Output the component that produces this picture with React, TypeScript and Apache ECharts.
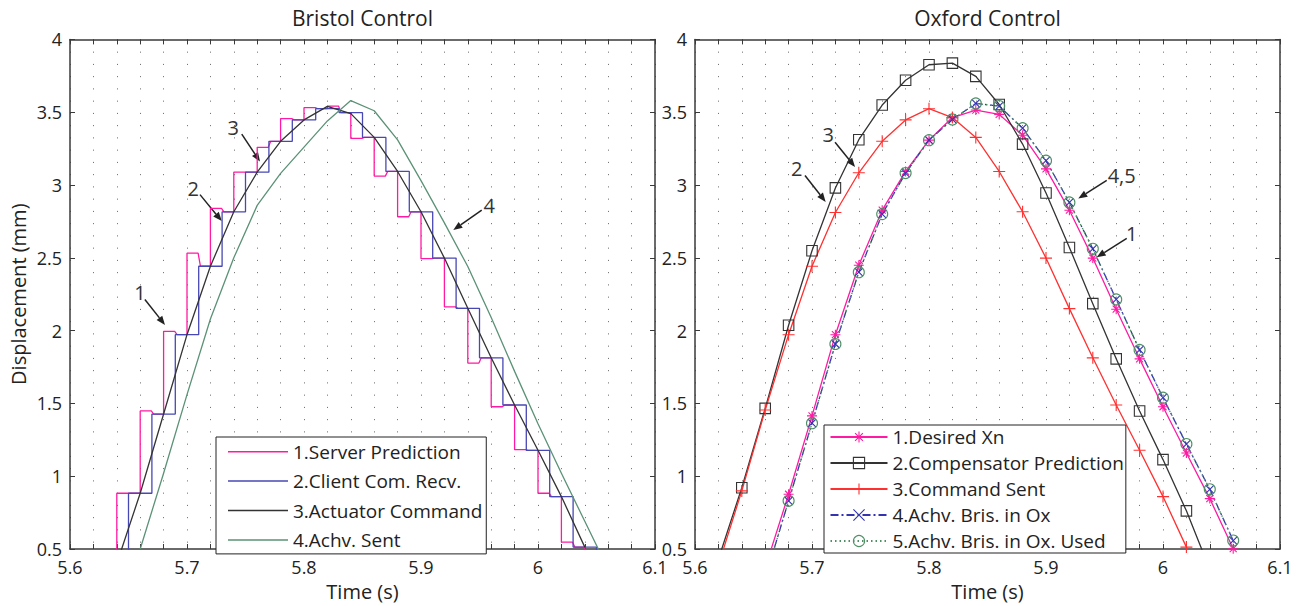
import React, { useEffect, useRef } from 'react';
import * as echarts from 'echarts';

const FONT = "'Open Sans', 'Noto Sans', sans-serif";
const AX = '#3a3a3a';
const TXT = '#222';

// ---------- Left panel: Bristol Control ----------
const stepTimes = [5.62, 5.64, 5.66, 5.68, 5.70, 5.72, 5.74, 5.76, 5.78, 5.80, 5.82, 5.84, 5.86, 5.88, 5.90, 5.92, 5.94, 5.96, 5.98, 6.00, 6.02, 6.04];
const serverPredFirst = [0.40, 0.883, 1.448, 1.995, 2.532, 2.839, 3.088, 3.259, 3.456, 3.531, 3.542, 3.320, 3.061, 2.782, 2.494, 2.163, 1.777, 1.477, 1.182, 0.883, 0.547, 0.30];
const serverPredSecond = [0.40, 0.883, 1.427, 1.972, 2.442, 2.816, 3.088, 3.300, 3.447, 3.524, 3.497, 3.327, 3.093, 2.816, 2.498, 2.153, 1.813, 1.489, 1.178, 0.860, 0.513, 0.30];

const actuatorTimes = [5.64, 5.66, 5.68, 5.70, 5.72, 5.74, 5.76, 5.78, 5.80, 5.82, 5.84, 5.86, 5.88, 5.90, 5.92, 5.94, 5.96, 5.98, 6.00, 6.02, 6.04];
const actuatorCommand = [0.40, 0.883, 1.427, 1.972, 2.442, 2.816, 3.088, 3.300, 3.447, 3.540, 3.490, 3.327, 3.093, 2.816, 2.498, 2.153, 1.813, 1.489, 1.178, 0.860, 0.513];

const achvSentTimes = [5.66, 5.68, 5.70, 5.72, 5.74, 5.76, 5.78, 5.80, 5.82, 5.84, 5.86, 5.88, 5.90, 5.92, 5.94, 5.96, 5.98, 6.00, 6.02, 6.04, 6.06];
const achvSent = [0.50, 1.02, 1.56, 2.08, 2.50, 2.86, 3.08, 3.26, 3.44, 3.58, 3.51, 3.31, 3.03, 2.74, 2.44, 2.09, 1.72, 1.36, 1.02, 0.69, 0.36];

// ---------- Right panel: Oxford Control ----------
const oxTimesEarly = [5.62, 5.64, 5.66, 5.68, 5.70, 5.72, 5.74, 5.76, 5.78, 5.80, 5.82, 5.84, 5.86, 5.88, 5.90, 5.92, 5.94, 5.96, 5.98, 6.00, 6.02, 6.04];
const compensatorPrediction = [0.43, 0.921, 1.466, 2.037, 2.548, 2.980, 3.311, 3.549, 3.719, 3.826, 3.837, 3.746, 3.553, 3.281, 2.945, 2.571, 2.185, 1.806, 1.448, 1.114, 0.762, 0.36];
const commandSent = [0.39, 0.899, 1.455, 1.972, 2.442, 2.811, 3.084, 3.300, 3.447, 3.524, 3.463, 3.327, 3.093, 2.816, 2.498, 2.151, 1.813, 1.489, 1.178, 0.860, 0.513, 0.20];

const oxTimesLate = [5.66, 5.68, 5.70, 5.72, 5.74, 5.76, 5.78, 5.80, 5.82, 5.84, 5.86, 5.88, 5.90, 5.92, 5.94, 5.96, 5.98, 6.00, 6.02, 6.04, 6.06];
const desiredXn = [0.37, 0.876, 1.414, 1.972, 2.449, 2.827, 3.093, 3.308, 3.463, 3.515, 3.485, 3.342, 3.111, 2.827, 2.498, 2.147, 1.806, 1.477, 1.159, 0.846, 0.502];
const achvBrisInOx = [0.30, 0.831, 1.364, 1.908, 2.401, 2.800, 3.082, 3.308, 3.450, 3.560, 3.542, 3.390, 3.167, 2.880, 2.562, 2.214, 1.867, 1.539, 1.221, 0.910, 0.558];
const achvBrisInOxUsed = [0.30, 0.831, 1.364, 1.908, 2.401, 2.800, 3.082, 3.308, 3.450, 3.560, 3.542, 3.390, 3.167, 2.880, 2.562, 2.214, 1.867, 1.539, 1.221, 0.910, 0.558];

const leftNames = ['1.Server Prediction', '2.Client Com. Recv.', '3.Actuator Command', '4.Achv. Sent'];
const rightNames = ['1.Desired Xn', '2.Compensator Prediction', '3.Command Sent', '4.Achv. Bris. in Ox', '5.Achv. Bris. in Ox. Used'];
const titles = ['Bristol Control', 'Oxford Control'];

// annotations (data coordinates)
const noteLabels = ['1', '2', '3', '4', '2', '3', '4,5', '1'];
const notePanel = [0, 0, 0, 0, 1, 1, 1, 1];
const noteTextAt = [[5.6598, 2.26], [5.7054, 2.975], [5.7396, 3.395], [5.9584, 2.861], [5.6869, 3.111], [5.7139, 3.349], [5.9647, 3.065], [5.9732, 2.668]];
const noteFrom = [[5.664, 2.214], [5.7111, 2.934], [5.7468, 3.349], [5.9519, 2.827], [5.694, 3.065], [5.7197, 3.293], [5.9519, 3.031], [5.969, 2.634]];
const noteTo = [[5.6812, 2.039], [5.7297, 2.752], [5.7624, 3.161], [5.9276, 2.691], [5.7117, 2.884], [5.7368, 3.123], [5.9276, 2.907], [5.9433, 2.503]];

const MAG = '#ff1aa3';
const BLUE = '#4848b4';
const BLACK = '#333333';
const GREEN = '#5b9276';
const RED = '#ff3030';
const OXBLUE = '#3434b0';
const OXGREEN = '#4e8f66';

const asteriskPath = 'path://M0,-6L0,6M-6,0L6,0M-4.2,-4.2L4.2,4.2M-4.2,4.2L4.2,-4.2';
const plusPath = 'path://M0,-6L0,6M-6,0L6,0';
const crossPath = 'path://M-5,-5L5,5M-5,5L5,-5';

function zip(xs: number[], ys: number[]) {
  return xs.map((x, i) => [x, ys[i]]);
}

function serverPoints() {
  const pts: number[][] = [];
  stepTimes.forEach((t, i) => {
    pts.push([t, serverPredFirst[i]], [t + 0.0095, serverPredFirst[i]], [t + 0.0115, serverPredSecond[i]], [t + 0.02, serverPredSecond[i]]);
  });
  return pts;
}
function clientPoints() {
  const pts: number[][] = [];
  stepTimes.forEach((t, i) => {
    pts.push([t + 0.01, serverPredSecond[i]], [t + 0.03, serverPredSecond[i]]);
  });
  return pts;
}

const fmtX = (v: number) => {
  const k = Math.round(v * 50);
  return k % 5 === 0 ? String(Math.round(v * 10) / 10) : '';
};

function xAxis(gridIndex: number, position: 'top' | 'bottom') {
  const main = position === 'bottom';
  return {
    type: 'value', gridIndex, position, min: 5.6, max: 6.1, interval: 0.02,
    axisLine: { show: true, onZero: false, lineStyle: { color: AX, width: 1.5 } },
    axisTick: { show: true, inside: true, length: 5, lineStyle: { color: AX, width: 1 } },
    axisLabel: main
      ? { show: true, margin: 9, fontSize: 18, fontFamily: FONT, color: TXT, formatter: fmtX, showMinLabel: true, showMaxLabel: true }
      : { show: false },
    splitLine: main
      ? { show: true, lineStyle: { color: '#666666', width: 1, type: [1, 11.25] } }
      : { show: false },
    name: main ? 'Time (s)' : '',
    nameLocation: 'middle', nameGap: 32,
    nameTextStyle: { fontSize: 20, fontFamily: FONT, color: TXT },
  };
}
function yAxis(gridIndex: number, position: 'left' | 'right', withName: boolean) {
  const main = position === 'left';
  return {
    type: 'value', gridIndex, position, min: 0.5, max: 4, interval: 0.5,
    axisLine: { show: true, onZero: false, lineStyle: { color: AX, width: 1.5 } },
    axisTick: { show: true, inside: true, length: 5, lineStyle: { color: AX, width: 1 } },
    axisLabel: main ? { show: true, margin: 8, fontSize: 18, fontFamily: FONT, color: TXT } : { show: false },
    splitLine: { show: false },
    name: withName ? 'Displacement (mm)' : '',
    nameLocation: 'middle', nameGap: 42,
    nameTextStyle: { fontSize: 20, fontFamily: FONT, color: TXT },
  };
}

function lineSeries(name: string, x: number, data: number[][], color: string, extra: any = {}) {
  return {
    name, type: 'line', xAxisIndex: x, yAxisIndex: x, data,
    symbol: 'none', clip: true, silent: true,
    lineStyle: { color, width: 1.3 },
    itemStyle: { color },
    ...extra,
  };
}

function markerSeries(name: string, data: number[][], color: string, symbol: string, size: number, lineType: any) {
  return {
    name, type: 'line', xAxisIndex: 2, yAxisIndex: 2, data,
    symbol, symbolSize: size, showSymbol: true, clip: true, silent: true,
    lineStyle: { color, width: 1.3, type: lineType },
    itemStyle: { color: 'rgba(255,255,255,0)', borderColor: color, borderWidth: 1.1 },
  };
}

const option: any = {
  animation: false,
  backgroundColor: '#ffffff',
  title: titles.map((t, i) => ({
    text: t, left: i === 0 ? 362.5 : 987.5, top: 7, textAlign: 'center', padding: 0,
    textStyle: { fontSize: 21, fontWeight: 'normal', fontFamily: FONT, color: TXT },
  })),
  grid: [
    { left: 70, right: 645, top: 39.4, bottom: 52 },
    { left: 695, right: 20, top: 39.4, bottom: 52 },
  ],
  xAxis: [xAxis(0, 'bottom'), xAxis(0, 'top'), xAxis(1, 'bottom'), xAxis(1, 'top')],
  yAxis: [yAxis(0, 'left', true), yAxis(0, 'right', false), yAxis(1, 'left', false), yAxis(1, 'right', false)],
  legend: [
    {
      orient: 'vertical', left: 216, top: 437,
      data: leftNames.map((n) => ({ name: n, icon: 'rect' })),
      itemWidth: 60, itemHeight: 1.5, itemGap: 9.4,
      padding: [4.7, 4, 4, 12],
      borderColor: '#222', borderWidth: 1, backgroundColor: '#fff',
      itemStyle: { borderWidth: 0 },
      textStyle: { fontSize: 19, fontFamily: FONT, color: TXT, lineHeight: 20 },
      selectedMode: false,
    },
    {
      orient: 'vertical', left: 824, top: 425,
      data: rightNames,
      itemWidth: 57, itemHeight: 14, itemGap: 6,
      padding: [2, 2, 2, 5.5],
      borderColor: '#222', borderWidth: 1, backgroundColor: '#fff',
      itemStyle: { borderWidth: 1.1 },
      textStyle: { fontSize: 19, fontFamily: FONT, color: TXT, lineHeight: 20 },
      selectedMode: false,
    },
  ],
  series: [
    lineSeries(leftNames[0], 0, serverPoints(), MAG),
    lineSeries(leftNames[1], 0, clientPoints(), BLUE),
    lineSeries(leftNames[2], 0, zip(actuatorTimes, actuatorCommand), BLACK),
    lineSeries(leftNames[3], 0, zip(achvSentTimes, achvSent), GREEN),
    markerSeries(rightNames[0], zip(oxTimesLate, desiredXn), MAG, asteriskPath, 10, 'solid'),
    markerSeries(rightNames[1], zip(oxTimesEarly, compensatorPrediction), BLACK, 'rect', 10.5, 'solid'),
    markerSeries(rightNames[2], zip(oxTimesEarly, commandSent), RED, plusPath, 12, 'solid'),
    markerSeries(rightNames[3], zip(oxTimesLate, achvBrisInOx), OXBLUE, crossPath, 8, [8, 3, 2, 3]),
    markerSeries(rightNames[4], zip(oxTimesLate, achvBrisInOxUsed), OXGREEN, 'circle', 11, [1.5, 3]),
  ],
};

export default function App() {
  const ref = useRef<HTMLDivElement>(null);
  useEffect(() => {
    const chart = echarts.init(ref.current as HTMLDivElement, null, { renderer: 'svg' });
    chart.setOption(option);
    const g: any[] = [];
    noteLabels.forEach((label, i) => {
      const finder = { xAxisIndex: notePanel[i] * 2, yAxisIndex: notePanel[i] * 2 };
      const tp = chart.convertToPixel(finder as any, noteTextAt[i]) as number[];
      const fp = chart.convertToPixel(finder as any, noteFrom[i]) as number[];
      const ep = chart.convertToPixel(finder as any, noteTo[i]) as number[];
      const dx = ep[0] - fp[0];
      const dy = ep[1] - fp[1];
      const len = Math.sqrt(dx * dx + dy * dy) || 1;
      const ux = dx / len;
      const uy = dy / len;
      const bx = ep[0] - ux * 9;
      const by = ep[1] - uy * 9;
      g.push({
        type: 'line', silent: true,
        shape: { x1: fp[0], y1: fp[1], x2: bx, y2: by },
        style: { stroke: '#222', lineWidth: 1.5 },
      });
      g.push({
        type: 'polygon', silent: true,
        shape: { points: [[ep[0], ep[1]], [bx - uy * 3.6, by + ux * 3.6], [bx + uy * 3.6, by - ux * 3.6]] },
        style: { fill: '#222' },
      });
      g.push({
        type: 'text', silent: true, x: tp[0], y: tp[1],
        style: { text: label, fontSize: 20, fontFamily: FONT, fill: '#333', align: 'center', verticalAlign: 'middle' },
      });
    });
    chart.setOption({ graphic: g });
    return () => chart.dispose();
  }, []);
  return <div ref={ref} style={{ position: 'absolute', left: 0, top: 0, width: 1300, height: 606 }} />;
}
